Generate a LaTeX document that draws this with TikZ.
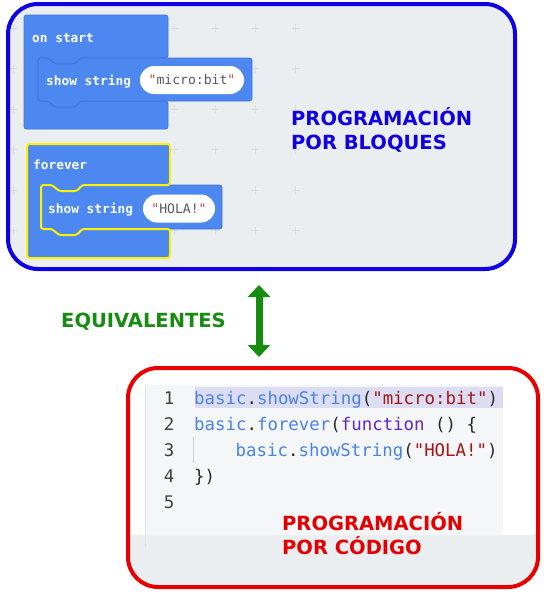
\documentclass[tikz,border=0pt]{standalone}
\usepackage{fontspec}
\setmonofont{DejaVu Sans Mono}
\newfontfamily\labfont{DejaVu Sans}
\usetikzlibrary{arrows.meta}
\definecolor{bgray}{RGB}{234,238,240}
\definecolor{boxblue}{RGB}{16,0,230}
\definecolor{boxred}{RGB}{232,0,0}
\definecolor{lblue}{RGB}{16,0,225}
\definecolor{lred}{RGB}{228,0,0}
\definecolor{lgreen}{RGB}{22,140,16}
\definecolor{blk}{RGB}{77,136,240}
\definecolor{blkedge}{RGB}{64,116,220}
\definecolor{gridc}{RGB}{218,222,225}
\definecolor{qred}{RGB}{205,70,70}
\definecolor{pilltext}{RGB}{85,88,95}
\definecolor{panel}{RGB}{245,246,247}
\definecolor{gutter}{RGB}{222,224,226}
\definecolor{hl}{RGB}{220,220,242}
\definecolor{cblue}{RGB}{72,132,230}
\definecolor{cpurp}{RGB}{96,36,212}
\definecolor{cstr}{RGB}{163,21,21}
\definecolor{cpunc}{RGB}{40,40,40}
\definecolor{cnum}{RGB}{60,66,72}
\definecolor{guide}{RGB}{205,208,212}
\newcommand\kb[1]{\textcolor{cblue}{#1}}
\newcommand\ks[1]{\textcolor{cstr}{#1}}
\begin{document}
\begin{tikzpicture}[x=1pt,y=-1pt,
  lab/.style={inner sep=0pt,anchor=base west,font=\labfont\bfseries\fontsize{19.5}{24}\selectfont},
  btext/.style={inner sep=0pt,anchor=base west,text=white,font=\ttfamily\bfseries\fontsize{12.8}{15}\selectfont},
  pill/.style={fill=white,rounded corners=14pt,minimum height=28pt,inner sep=0pt,text=pilltext,font=\ttfamily\fontsize{13.1}{15}\selectfont},
  blockfill/.style={fill=blk,draw=blkedge,line width=0.8pt,rounded corners=2.5pt},
  codeline/.style={inner sep=0pt,anchor=base west,text=cpunc,font=\ttfamily\fontsize{17.4}{20}\selectfont},
  lnum/.style={inner sep=0pt,anchor=base,text=cnum,font=\ttfamily\fontsize{17.4}{20}\selectfont},
  gridmark/.style={draw=gridc,line width=0.8pt}]
\useasboundingbox (0,0) rectangle (548,600);

% ---------- blue panel ----------
\path[fill=bgray,rounded corners=30pt] (8,4) rectangle (515,269);
\begin{scope}
  \clip[rounded corners=30pt] (8,4) rectangle (515,269);
  \foreach \gx in {13,53.4,93.8,134.2,174.6,215,255.4,295.8}
    \foreach \gy in {28,68.5,109,149.5,190,230.5}
      \draw[gridmark] (\gx-4,\gy) -- (\gx+4,\gy) (\gx,\gy-4) -- (\gx,\gy+4);
\end{scope}

% on start block
\path[blockfill] (24,15) -- (168,15) -- (168,58) -- (80,58) -- (75,64) -- (55,64) -- (48,58) -- (38,58)
  -- (38,101) -- (48,101) -- (55,107) -- (75,107) -- (80,101) -- (168,101) -- (168,129) -- (24,129) -- cycle;
\path[blockfill] (38,58) -- (48,58) -- (55,64) -- (75,64) -- (80,58) -- (252,58) -- (252,101)
  -- (80,101) -- (75,107) -- (55,107) -- (48,101) -- (38,101) -- cycle;
\node[btext] (onstart) at (32,42) {on start};
\node[btext] (show1) at (46,85) {show string};
\node[pill,minimum width=104pt] (pill1) at (192,80) {\textcolor{qred}{"}micro:bit\textcolor{qred}{"}};

% forever block
\path[blockfill] (27,144) -- (170,144) -- (170,185) -- (82,185) -- (77,191) -- (59,191) -- (52,185) -- (41,185)
  -- (41,229) -- (52,229) -- (59,235) -- (77,235) -- (82,229) -- (170,229) -- (170,258) -- (27,258) -- cycle;
\path[blockfill] (41,185) -- (52,185) -- (59,191) -- (77,191) -- (82,185) -- (222,185) -- (222,229)
  -- (82,229) -- (77,235) -- (59,235) -- (52,229) -- (41,229) -- cycle;
\draw[draw=yellow,line width=2pt,rounded corners=2.5pt] (27,144) -- (170,144) -- (170,185) -- (82,185) -- (77,191) -- (59,191) -- (52,185) -- (41,185)
  -- (41,229) -- (52,229) -- (59,235) -- (77,235) -- (82,229) -- (170,229) -- (170,258) -- (27,258) -- cycle;
\node[btext] (forever) at (33,169) {forever};
\node[btext] (show2) at (48,213) {show string};
\node[pill,minimum width=72pt] (pill2) at (179,208.5) {\textcolor{qred}{"}HOLA!\textcolor{qred}{"}};

\node[lab,text=lblue] (pb1) at (291,125) {PROGRAMACIÓN};
\node[lab,text=lblue] (pb2) at (291,149) {POR BLOQUES};

\draw[draw=boxblue,line width=4pt,rounded corners=30pt] (8,4) rectangle (515,269);

% ---------- middle ----------
\node[lab,text=lgreen] (equiv) at (61,327) {EQUIVALENTES};
\coordinate (atop) at (259,285);
\coordinate (abot) at (259,357);
\draw[draw=lgreen,line width=7pt,{Triangle[width=22pt,length=12pt]}-{Triangle[width=22pt,length=12pt]}] (atop) -- (abot);

% ---------- red panel ----------
\path[fill=bgray,rounded corners=30pt] (128,368) rectangle (538,587);
\begin{scope}
  \clip[rounded corners=30pt] (128,368) rectangle (538,587);
  \fill[white,rounded corners=6pt] (120,360) rectangle (536,535);
\end{scope}
\fill[panel] (145,385) rectangle (503,535);
\draw[draw=gutter,line width=1pt] (145,385) -- (145,547);
\fill[hl] (195,387) rectangle (503,408);
\draw[draw=guide,line width=1pt] (193,437) -- (193,463);

\node[lnum] (n1) at (169,404) {1};
\node[lnum] (n2) at (169,430) {2};
\node[lnum] (n3) at (169,456) {3};
\node[lnum] (n4) at (169,482) {4};
\node[lnum] (n5) at (169,508) {5};
\node[codeline] (c1) at (194,404) {\kb{basic}.\kb{showString}(\ks{"micro:bit"})};
\node[codeline] (c2) at (194,430) {\kb{basic}.\kb{forever}(\textcolor{cpurp}{function} () \{};
\node[codeline] (c3) at (235.5,456) {\kb{basic}.\kb{showString}(\ks{"HOLA!"})};
\node[codeline] (c4) at (194,482) {\})};

\node[lab,text=lred] (pc1) at (282,530) {PROGRAMACIÓN};
\node[lab,text=lred] (pc2) at (282,554) {POR CÓDIGO};

\draw[draw=boxred,line width=4pt,rounded corners=30pt] (128,368) rectangle (538,587);
\end{tikzpicture}
\end{document}
